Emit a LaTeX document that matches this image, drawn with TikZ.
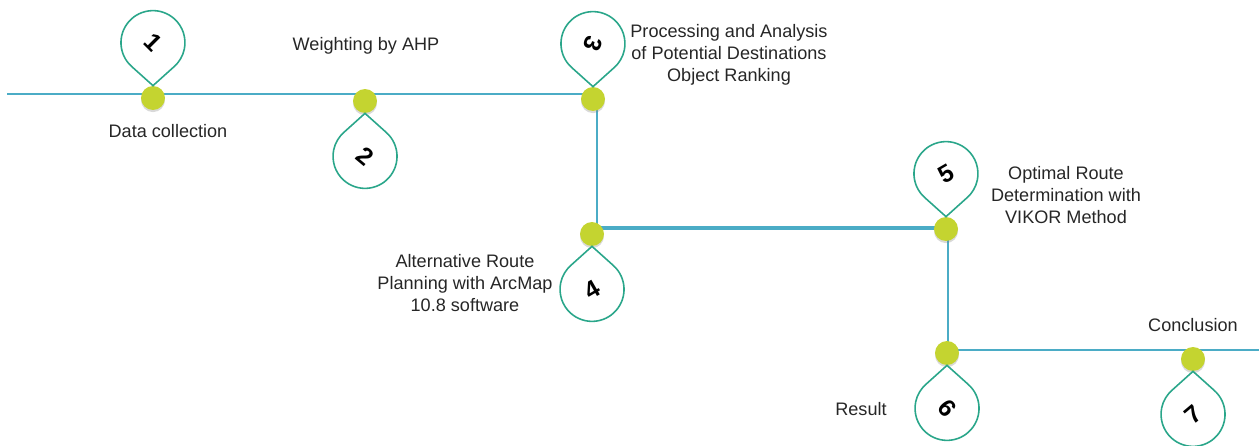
\documentclass[tikz,border=0pt]{standalone}
\usepackage{fontspec}
\setmainfont{Liberation Sans}
\usetikzlibrary{shadows}
\definecolor{routeblue}{RGB}{75,172,198}
\definecolor{pingreen}{RGB}{42,166,138}
\definecolor{dotgreen}{RGB}{196,212,48}
\tikzset{route/.style = {draw=routeblue, line width=1.1pt}}
\tikzset{stop/.style = {circle, fill=dotgreen, minimum size=0.48cm, inner sep=0pt, drop shadow={shadow xshift=0pt, shadow yshift=-1.2pt, opacity=0.3}}}
\tikzset{note/.style = {align=center, inner sep=0pt, text=black!85, font=\fontsize{10.3}{12.5}\selectfont}}
\tikzset{num/.style = {inner sep=0pt, font=\fontsize{14}{14}\selectfont\bfseries}}
\tikzset{pinline/.style = {draw=pingreen, line width=0.9pt, fill=white}}
\tikzset{pics/drop/.style 2 args = {code = {
  \draw[pinline] (0,0) -- (21.4,19.2) arc[start angle=-48.1, end angle=228.1, radius=32] -- cycle;
  \node[num, rotate=#2] (-n) at (0,43) {#1};
}}}

\begin{document}
\begin{tikzpicture}[x=0.02cm, y=-0.02cm]
  \useasboundingbox (0,0) rectangle (1259,446);
  % route
  \coordinate (c0) at (7,94);
  \coordinate (c1) at (597,94);
  \coordinate (c2) at (597,228);
  \coordinate (c3) at (948,228);
  \coordinate (c4) at (948,350);
  \coordinate (c5) at (1259,350);
  \draw[route] (c0) -- (c1) -- (c2) -- (c3) -- (c4) -- (c5);
  \draw[route, line width=1.8pt] (c2) -- (c3);
  % stops
  \node[stop] (d1) at (153,98) {};
  \node[stop] (d2) at (365,101) {};
  \node[stop] (d3) at (593,99) {};
  \node[stop] (d4) at (592,234) {};
  \node[stop] (d5) at (946,229) {};
  \node[stop] (d6) at (947,353) {};
  \node[stop] (d7) at (1193,359) {};
  % pins
  \pic[rotate=180] (p1) at (d1.north) {drop={1}{-45}};
  \pic (p2) at (d2.south) {drop={2}{-40}};
  \pic[rotate=180] (p3) at (d3.north) {drop={3}{-110}};
  \pic (p4) at (d4.south) {drop={4}{30}};
  \pic[rotate=180] (p5) at (d5.north) {drop={5}{30}};
  \pic (p6) at (d6.south) {drop={6}{-50}};
  \pic (p7) at (d7.south) {drop={7}{40}};
  % texts
  \node[note] (t1) at (168,131) {Data collection};
  \node[note] (t2) at (366,46) {Weighting by AHP};
  \node[note] (t3) at (729,55) {Processing and Analysis\\of Potential Destinations\\Object Ranking};
  \node[note] (t4) at (465,283) {Alternative Route\\Planning with ArcMap\\10.8 software};
  \node[note] (t5) at (1066,195) {Optimal Route\\Determination with\\VIKOR Method};
  \node[note] (t6) at (861,409) {Result};
  \node[note] (t7) at (1193,325) {Conclusion};
\end{tikzpicture}
\end{document}
